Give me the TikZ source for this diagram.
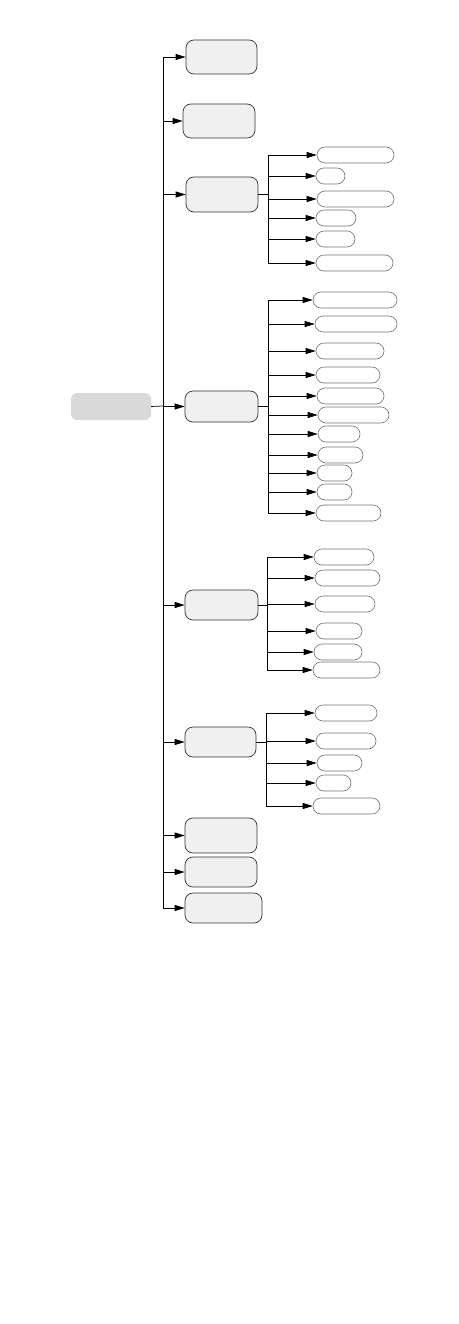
\documentclass[tikz,border=0pt]{standalone}
\usetikzlibrary{arrows.meta}

\tikzset{
  rootbox/.style={fill=black!15, rounded corners=6pt, inner sep=0pt},
  topbox/.style={draw=black!80, fill=black!6, rounded corners=8pt, inner sep=0pt, line width=0.7pt},
  leafbox/.style={draw=black!55, fill=white, rounded corners=8pt, inner sep=0pt, minimum height=16pt, line width=0.6pt},
  arr/.style={-{Triangle[length=10pt,width=6pt]}, line width=0.7pt},
  link/.style={line width=0.7pt}
}

\begin{document}
\begin{tikzpicture}[x=1pt,y=-1pt]
  \useasboundingbox (0,0) rectangle (458,1324);

  % root and main trunk
  \node[rootbox, minimum width=80pt, minimum height=27pt] (root) at (111,406.5) {};
  \coordinate (trunk) at (163,406);

  % first level boxes
  \foreach \n/\xa/\xb/\ya/\yb in {1/186/257/40/74, 2/183/255/104/138, 3/186/258/177/212,
      4/185/258/391/422, 5/185/258/590/620, 6/185/256/727/757,
      7/185/257/818/853, 8/185/257/857/887, 9/185/262/893/923}
    \node[topbox, minimum width={(\xb-\xa)*1pt}, minimum height={(\yb-\ya)*1pt}]
      (b\n) at ({(\xa+\xb)/2},{(\ya+\yb)/2}) {};

  \draw[link] (root.east) -- (trunk);
  \draw[link] (b1.west -| trunk) -- (b9.west -| trunk);
  \foreach \n in {1,...,9}
    \draw[arr] (b\n.west -| trunk) -- (b\n.west);

  % leaves of box 3
  \coordinate (s3) at (268,194);
  \foreach \n/\y/\xa/\xb in {1/155/317/394, 2/176/316/345, 3/199/317/394,
      4/218/316/356, 5/239/316/355, 6/263/316/393}
    \node[leafbox, minimum width={(\xb-\xa)*1pt}] (c3-\n) at ({(\xa+\xb)/2},\y) {};
  \draw[link] (b3.east) -- (b3.east -| s3);
  \draw[link] (c3-1.west -| s3) -- (c3-6.west -| s3);
  \foreach \n in {1,...,6}
    \draw[arr] (c3-\n.west -| s3) -- (c3-\n.west);

  % leaves of box 4
  \coordinate (s4) at (268,406);
  \foreach \n/\y/\xa/\xb in {1/300/313/397, 2/324/315/397, 3/351/316/384,
      4/375/316/380, 5/396/317/384, 6/415/318/389, 7/434/318/360,
      8/455/318/363, 9/473/317/352, 10/492/317/352, 11/513/316/381}
    \node[leafbox, minimum width={(\xb-\xa)*1pt}] (c4-\n) at ({(\xa+\xb)/2},\y) {};
  \draw[link] (b4.east) -- (b4.east -| s4);
  \draw[link] (c4-1.west -| s4) -- (c4-11.west -| s4);
  \foreach \n in {1,...,11}
    \draw[arr] (c4-\n.west -| s4) -- (c4-\n.west);

  % leaves of box 5
  \coordinate (s5) at (267,604);
  \foreach \n/\y/\xa/\xb in {1/557/314/374, 2/578/315/380, 3/604/315/375,
      4/631/316/362, 5/652/314/362, 6/670/313/380}
    \node[leafbox, minimum width={(\xb-\xa)*1pt}] (c5-\n) at ({(\xa+\xb)/2},\y) {};
  \draw[link] (b5.east) -- (b5.east -| s5);
  \draw[link] (c5-1.west -| s5) -- (c5-6.west -| s5);
  \foreach \n in {1,...,6}
    \draw[arr] (c5-\n.west -| s5) -- (c5-\n.west);

  % leaves of box 6
  \coordinate (s6) at (266,741);
  \foreach \n/\y/\xa/\xb in {1/713/315/377, 2/741/316/376, 3/763/317/362,
      4/783/316/351, 5/806/313/380}
    \node[leafbox, minimum width={(\xb-\xa)*1pt}] (c6-\n) at ({(\xa+\xb)/2},\y) {};
  \draw[link] (b6.east) -- (b6.east -| s6);
  \draw[link] (c6-1.west -| s6) -- (c6-5.west -| s6);
  \foreach \n in {1,...,5}
    \draw[arr] (c6-\n.west -| s6) -- (c6-\n.west);
\end{tikzpicture}
\end{document}
